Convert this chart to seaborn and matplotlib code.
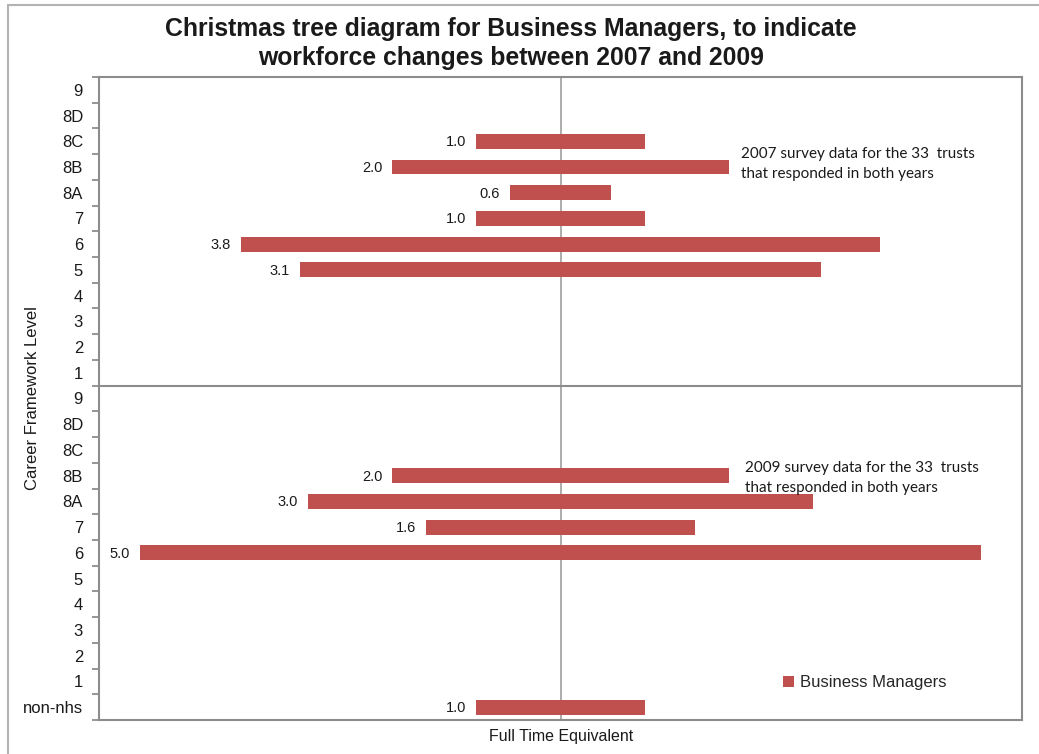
import matplotlib
matplotlib.use("Agg")
import matplotlib.pyplot as plt
from matplotlib.patches import Patch
from matplotlib.lines import Line2D
import seaborn as sns
import pandas as pd
import numpy as np

# Career framework levels, top to bottom, for each survey year
levels_2007 = ["9", "8D", "8C", "8B", "8A", "7", "6", "5", "4", "3", "2", "1"]
fte_2007 = [0, 0, 1.0, 2.0, 0.6, 1.0, 3.8, 3.1, 0, 0, 0, 0]

levels_2009 = ["9", "8D", "8C", "8B", "8A", "7", "6", "5", "4", "3", "2", "1", "non-nhs"]
fte_2009 = [0, 0, 0, 2.0, 3.0, 1.6, 5.0, 0, 0, 0, 0, 0, 1.0]

series_name = "Business Managers"
note_2007 = "2007 survey data for the 33  trusts\nthat responded in both years"
note_2009 = "2009 survey data for the 33  trusts\nthat responded in both years"
title_lines = ["Christmas tree diagram for Business Managers, to indicate",
               "workforce changes between 2007 and 2009"]

bar_color = "#C0504D"
axis_grey = "#8C8C8C"

sns.set_theme(style="white")
plt.rcParams["font.family"] = ["Liberation Sans", "DejaVu Sans"]

labels = levels_2007 + levels_2009
values = fte_2007 + fte_2009
row_keys = [f"2007-{l}" for l in levels_2007] + [f"2009-{l}" for l in levels_2009]
df = pd.DataFrame({"row": row_keys, "label": labels, "fte": values})
df["right"] = df["fte"] / 2
df["left"] = -df["fte"] / 2

fig = plt.figure(figsize=(10.39, 7.54), dpi=100)
ax = fig.add_axes([99 / 1039, 1 - 720 / 754, (1022 - 99) / 1039, (720 - 77) / 754])

# Each bar is drawn as two halves either side of zero so it sits centred
sns.barplot(data=df, y="row", x="right", order=row_keys, orient="h",
            color=bar_color, saturation=1, width=0.58, linewidth=0,
            label=series_name, ax=ax)
sns.barplot(data=df, y="row", x="left", order=row_keys, orient="h",
            color=bar_color, saturation=1, width=0.58, linewidth=0, ax=ax)

n = len(row_keys)
ax.set_xlim(-2.742, 2.742)
ax.set_ylim(n - 0.5, -0.5)

# Value labels at the left end of each bar
for i, v in enumerate(values):
    if v > 0:
        ax.annotate(f"{v:.1f}", xy=(-v / 2, i), xytext=(-10, -1),
                    textcoords="offset pixels", ha="right", va="center",
                    fontsize=10.5, color="#1a1a1a")

# Central axis and divider between the two survey years
ax.axvline(0, color="#A6A6A6", lw=1.3, zorder=0)
ax.axhline(len(levels_2007) - 0.5, color=axis_grey, lw=1.5)

# Category labels centred on rows, tick marks between rows
ax.set_yticks(range(n))
ax.set_yticklabels(labels, fontsize=12, color="#1a1a1a")
ax.set_yticks(np.arange(-0.5, n, 1.0), minor=True)
ax.tick_params(axis="y", which="major", length=0, pad=11.5)
ax.tick_params(axis="y", which="minor", length=5, width=1.3, color=axis_grey,
               direction="out", left=True)
ax.set_xticks([])
ax.set_xlabel("")
ax.set_ylabel("")
for s in ax.spines.values():
    s.set_visible(True)
    s.set_color(axis_grey)
    s.set_linewidth(1.5)

# Notes beside the bars
ax.text(741, 754 - 164, note_2007, transform=None, ha="left", va="center",
        fontsize=11, family=["Lato", "DejaVu Sans"], color="#1a1a1a",
        linespacing=1.55)
ax.text(745, 754 - 478, note_2009, transform=None, ha="left", va="center",
        fontsize=11, family=["Lato", "DejaVu Sans"], color="#1a1a1a",
        linespacing=1.55)

# Legend
leg = ax.legend(handles=[Patch(facecolor=bar_color, edgecolor="none")],
                labels=[series_name], loc="center left",
                bbox_to_anchor=((783 - 99) / 923, 1 - (683 - 77) / 643),
                frameon=False, fontsize=12, handlelength=0.65,
                handleheight=0.65, handletextpad=0.35, borderpad=0,
                borderaxespad=0)

# Titles and axis labels
fig.text(510.5 / 1039, 1 - 36 / 754, title_lines[0], ha="center", va="baseline",
         fontsize=17.8, fontweight="bold", color="#1a1a1a")
fig.text(511.5 / 1039, 1 - 65 / 754, title_lines[1], ha="center", va="baseline",
         fontsize=17.8, fontweight="bold", color="#1a1a1a")
fig.text(33 / 1039, 1 - 398 / 754, "Career Framework Level", rotation=90,
         ha="center", va="center", fontsize=12, color="#1a1a1a")
fig.text(561 / 1039, 1 - 737 / 754, "Full Time Equivalent", ha="center",
         va="center", fontsize=11.5, color="#1a1a1a")

# Chart-area border (top and left edges)
fig.add_artist(Line2D([8 / 1039, 1.0], [1 - 5 / 754, 1 - 5 / 754],
                      transform=fig.transFigure, color="#B3B3B3", lw=1.5))
fig.add_artist(Line2D([8 / 1039, 8 / 1039], [0.0, 1 - 5 / 754],
                      transform=fig.transFigure, color="#B3B3B3", lw=1.5))

fig.savefig("out.png", dpi=100)
